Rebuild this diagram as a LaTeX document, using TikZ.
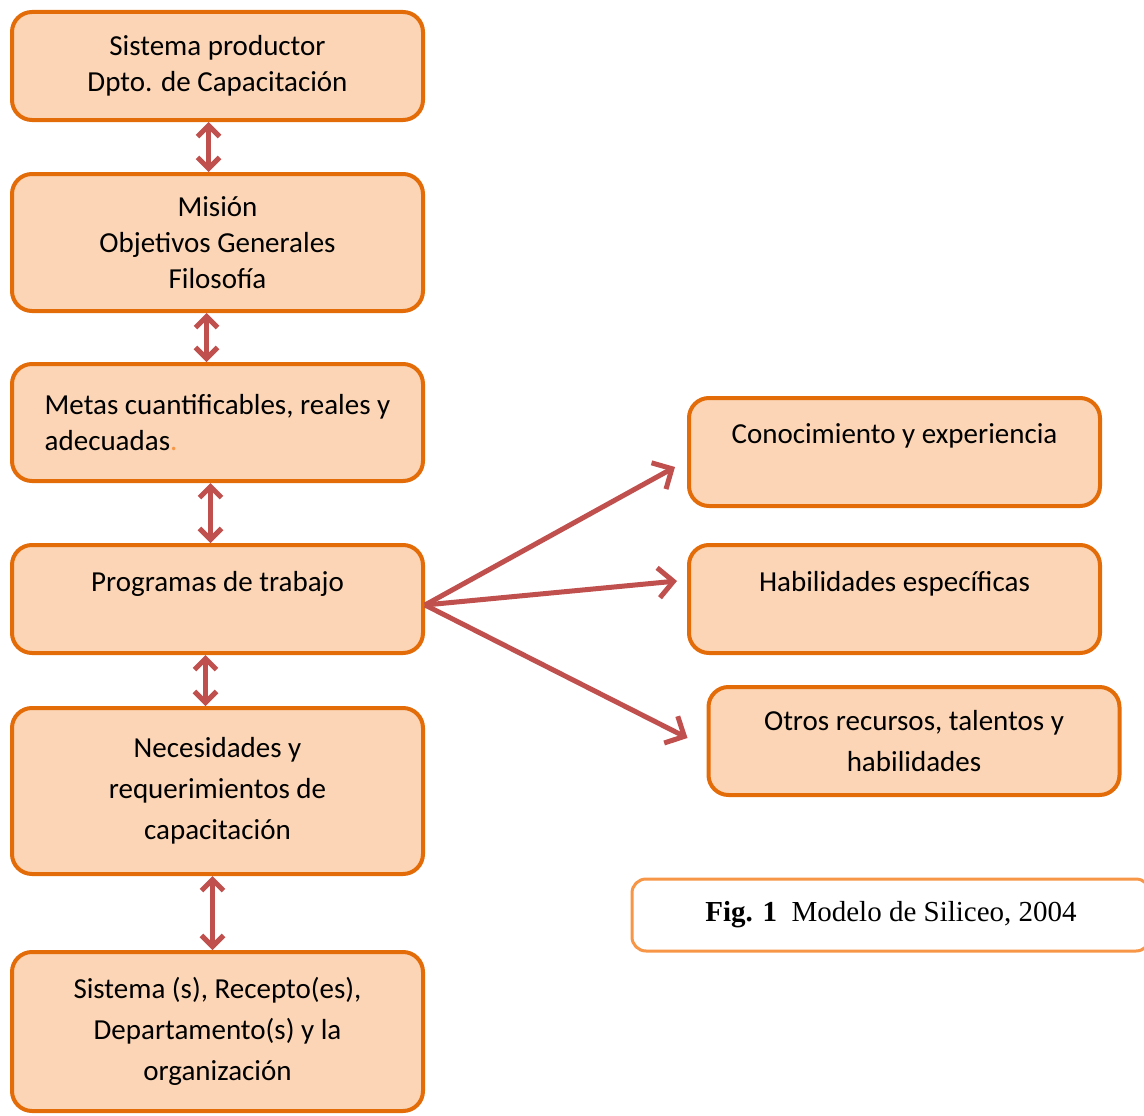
\documentclass[tikz,border=0pt]{standalone}
\usepackage{fontspec}
\setmainfont{Carlito}
\newfontfamily\figfont{Liberation Serif}
\usetikzlibrary{arrows.meta,positioning,calc}
\definecolor{boxfill}{HTML}{FBD5B5}
\definecolor{boxline}{HTML}{E36C09}
\definecolor{figline}{HTML}{F79646}
\definecolor{link}{HTML}{C0504D}

\begin{document}
\begin{tikzpicture}[x=1pt, y=-1pt,
      box/.style={draw=boxline, fill=boxfill, rounded corners=20pt, line width=4pt,
                  align=center, inner sep=0pt, minimum width=411pt, minimum height=108pt,
                  font=\fontsize{29}{36}\selectfont},
      wide/.style={box, font=\fontsize{29}{41}\selectfont},
      figbox/.style={draw=figline, fill=white, rounded corners=14pt, line width=3pt,
                  minimum width=518pt, minimum height=72pt,
                  font=\figfont\fontsize{29}{32}\selectfont},
      dbl/.style={{Straight Barb[length=11pt, width=22pt]}-{Straight Barb[length=11pt, width=22pt]},
                  line width=5pt, link},
      arr/.style={-{Straight Barb[length=15pt, width=30pt]}, line width=5pt, link}]
    \useasboundingbox (0,0) rectangle (1144,1116);
    % left column
    \node[box] (prod) at (217.5,66) {Sistema productor\\Dpto. de Capacitación};
    \node[box, minimum height=137pt, below=50pt of prod] (mision) {Misión\\Objetivos Generales\\Filosofía};
    \node[box, minimum height=117pt, below=49pt of mision, align=left] (metas)
      {Metas cuantificables, reales y\\adecuadas{\color{figline}.}};
    \node[box, below=60pt of metas] (prog) {Programas de trabajo\\\mbox{}};
    \node[wide, minimum height=166pt, below=51pt of prog] (neces) {Necesidades y\\requerimientos de\\capacitación};
    \node[wide, minimum height=159pt, below=74pt of neces] (recep) {Sistema (s), Recepto(es),\\Departamento(s) y la\\organización};
    % right column
    \node[box] (cono) at (894.5,452) {Conocimiento y experiencia\\\mbox{}};
    \node[box] (habil) at (894.5,599) {Habilidades específicas\\\mbox{}};
    \node[wide] (otros) at (914,741) {Otros recursos, talentos y\\habilidades};
    \node[figbox] (fig) at (891,915) {\textbf{Fig. 1}\ \ Modelo de Siliceo, 2004};
    % connectors
    \draw[dbl] ([xshift=-9pt]prod.south) -- ([xshift=-9pt]mision.north);
    \draw[dbl] ([xshift=-11pt]mision.south) -- ([xshift=-11pt]metas.north);
    \draw[dbl] ([xshift=-7pt]metas.south) -- ([xshift=-7pt]prog.north);
    \draw[dbl] ([xshift=-12pt]prog.south) -- ([xshift=-12pt]neces.north);
    \draw[dbl] ([xshift=-5pt]neces.south) -- ([xshift=-5pt]recep.north);
    \coordinate (hub) at ([yshift=-6pt]prog.east);
    \draw[arr] (hub) -- ($(cono.west)+(-12,15)$);
    \draw[arr] (hub) -- ($(habil.west)+(-10,-18)$);
    \draw[arr] (hub) -- ($(otros.west)+(-19,-3)$);
  \end{tikzpicture}
\end{document}
